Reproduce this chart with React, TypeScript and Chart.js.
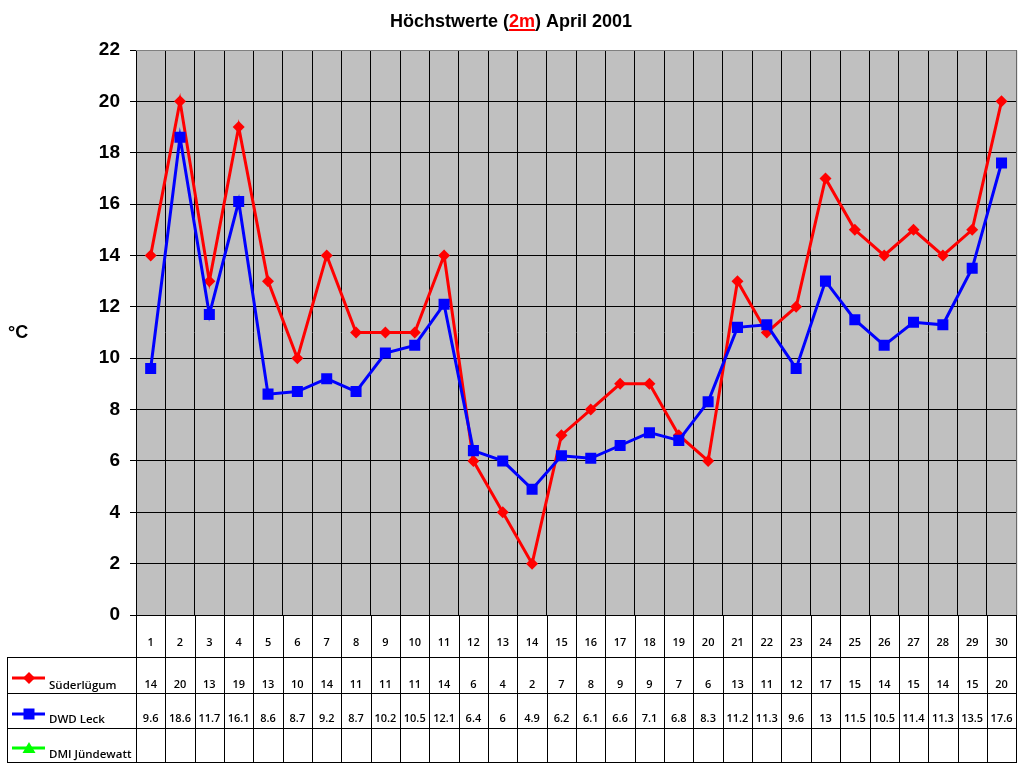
import React, { useEffect, useRef } from "react";
import { Chart, registerables } from "chart.js";

Chart.register(...registerables);

const days: string[] = ["1","2","3","4","5","6","7","8","9","10","11","12","13","14","15","16","17","18","19","20","21","22","23","24","25","26","27","28","29","30"];
const suederluegum: number[] = [14,20,13,19,13,10,14,11,11,11,14,6,4,2,7,8,9,9,7,6,13,11,12,17,15,14,15,14,15,20];
const dwdLeck: number[] = [9.6,18.6,11.7,16.1,8.6,8.7,9.2,8.7,10.2,10.5,12.1,6.4,6,4.9,6.2,6.1,6.6,7.1,6.8,8.3,11.2,11.3,9.6,13,11.5,10.5,11.4,11.3,13.5,17.6];
const dmiJuendewatt: (number | null)[] = [];
const seriesNames: string[] = ["Süderlügum", "DWD Leck", "DMI Jündewatt"];
const yTicks: number[] = [0, 2, 4, 6, 8, 10, 12, 14, 16, 18, 20, 22];

const RED = "#FF0000";
const BLUE = "#0000FF";
const GREEN = "#00FF00";
const TABLE_FONT = "600 11px 'Open Sans', 'Liberation Sans', sans-serif";
const LEGEND_FONT = "600 11.5px 'Open Sans', 'Liberation Sans', sans-serif";

const fmt = (v: number | null | undefined) => (v === null || v === undefined ? "" : String(v));

const decorPlugin = {
  id: "decor",
  beforeDraw(chart: any) {
    const { ctx, chartArea } = chart;
    ctx.save();
    ctx.fillStyle = "#C0C0C0";
    ctx.fillRect(chartArea.left, chartArea.top, chartArea.right - chartArea.left, chartArea.bottom - chartArea.top);
    ctx.restore();
  },
  afterDraw(chart: any) {
    const { ctx, chartArea } = chart;
    const xs = chart.scales.x;
    const n = days.length;
    ctx.save();

    // plot border top/right gray
    ctx.strokeStyle = "#808080";
    ctx.lineWidth = 1;
    ctx.beginPath();
    ctx.moveTo(chartArea.left, chartArea.top + 0.5);
    ctx.lineTo(chartArea.right + 0.5, chartArea.top + 0.5);
    ctx.lineTo(chartArea.right + 0.5, chartArea.bottom);
    ctx.stroke();

    // Title
    ctx.font = "bold 18px 'Liberation Sans', Arial, sans-serif";
    ctx.textBaseline = "alphabetic";
    ctx.textAlign = "left";
    const p1 = "Höchstwerte (";
    const p2 = "2m";
    const p3 = ") April 2001";
    const w1 = ctx.measureText(p1).width;
    const w2 = ctx.measureText(p2).width;
    const w3 = ctx.measureText(p3).width;
    const tx = 511 - (w1 + w2 + w3) / 2;
    const ty = 27;
    ctx.fillStyle = "#000";
    ctx.fillText(p1, tx, ty);
    ctx.fillStyle = RED;
    ctx.fillText(p2, tx + w1, ty);
    ctx.fillRect(tx + w1, ty + 2, w2, 2);
    ctx.fillStyle = "#000";
    ctx.fillText(p3, tx + w1 + w2, ty);

    // y-axis unit
    ctx.font = "bold 18px 'Liberation Sans', Arial, sans-serif";
    ctx.fillText("°C", 8, 338);

    // Data table
    const top = chartArea.bottom;
    const rowY = [657, 693, 728, 762];
    const leftX = 7;
    const rightX = Math.round(xs.getPixelForValue(n - 0.5));
    ctx.strokeStyle = "#000";
    ctx.lineWidth = 1;
    ctx.beginPath();
    for (let i = 0; i <= n; i++) {
      const x = Math.round(xs.getPixelForValue(i - 0.5)) + 0.5;
      ctx.moveTo(x, top);
      ctx.lineTo(x, rowY[3] + 0.5);
    }
    for (const y of rowY) {
      ctx.moveTo(leftX, y + 0.5);
      ctx.lineTo(rightX + 1, y + 0.5);
    }
    ctx.moveTo(leftX + 0.5, rowY[0]);
    ctx.lineTo(leftX + 0.5, rowY[3] + 1);
    ctx.stroke();

    ctx.fillStyle = "#000";
    ctx.font = TABLE_FONT;
    ctx.textAlign = "center";
    ctx.textBaseline = "alphabetic";
    const rows: (number | null)[][] = [suederluegum, dwdLeck, dmiJuendewatt];
    const valueBase = [688, 722, 757];
    for (let i = 0; i < n; i++) {
      const cx = xs.getPixelForValue(i);
      ctx.fillText(days[i], cx, 646);
      rows.forEach((r, k) => {
        const t = fmt(r[i]);
        if (t) ctx.fillText(t, cx, valueBase[k]);
      });
    }

    // legend keys
    const keyY = [678, 714, 748];
    const colors = [RED, BLUE, GREEN];
    ctx.font = LEGEND_FONT;
    ctx.textAlign = "left";
    for (let k = 0; k < 3; k++) {
      const y = keyY[k];
      ctx.strokeStyle = colors[k];
      ctx.fillStyle = colors[k];
      ctx.lineWidth = 3;
      ctx.beginPath();
      ctx.moveTo(12, y);
      ctx.lineTo(45, y);
      ctx.stroke();
      const cx = 29;
      ctx.beginPath();
      if (k === 0) {
        ctx.moveTo(cx - 6, y);
        ctx.lineTo(cx, y - 6);
        ctx.lineTo(cx + 6, y);
        ctx.lineTo(cx, y + 6);
      } else if (k === 1) {
        ctx.rect(cx - 5.5, y - 5.5, 11, 11);
      } else {
        ctx.moveTo(cx - 6.5, y + 5);
        ctx.lineTo(cx, y - 6);
        ctx.lineTo(cx + 6.5, y + 5);
      }
      ctx.closePath();
      ctx.fill();
      ctx.fillStyle = "#000";
      ctx.fillText(seriesNames[k], 49, valueBase[k] + 1);
    }
    ctx.restore();
  },
};

export default function App() {
  const ref = useRef<HTMLCanvasElement | null>(null);
  useEffect(() => {
    if (!ref.current) return;
    const chart = new Chart(ref.current, {
      type: "line",
      data: {
        labels: days,
        datasets: [
          {
            label: seriesNames[0],
            data: suederluegum,
            borderColor: RED,
            backgroundColor: RED,
            borderWidth: 3,
            pointStyle: "rectRot",
            pointRadius: 6,
            pointBorderWidth: 0,
            pointBackgroundColor: RED,
            tension: 0,
            order: 2,
          },
          {
            label: seriesNames[1],
            data: dwdLeck,
            borderColor: BLUE,
            backgroundColor: BLUE,
            borderWidth: 3,
            pointStyle: "rect",
            pointRadius: 7.8,
            pointBorderWidth: 0,
            pointBackgroundColor: BLUE,
            tension: 0,
            order: 1,
          },
          {
            label: seriesNames[2],
            data: dmiJuendewatt,
            borderColor: GREEN,
            backgroundColor: GREEN,
            borderWidth: 3,
            pointStyle: "triangle",
            pointRadius: 7,
            tension: 0,
            order: 3,
          },
        ],
      },
      options: {
        animation: false,
        responsive: false,
        devicePixelRatio: 1,
        layout: { padding: { top: 50, right: 2, left: 0, bottom: 0 } },
        plugins: {
          legend: { display: false },
          title: { display: false },
          tooltip: { enabled: false },
        },
        scales: {
          x: {
            type: "category",
            offset: true,
            grid: { offset: true, color: "#000", lineWidth: 1, drawTicks: false, tickLength: 0 },
            border: { display: true, color: "#000", width: 1 },
            ticks: { display: false },
            afterFit: (s: any) => {
              s.height = 153;
            },
          },
          y: {
            type: "linear",
            min: yTicks[0],
            max: yTicks[yTicks.length - 1],
            afterBuildTicks: (s: any) => {
              s.ticks = yTicks.map((v) => ({ value: v }));
            },
            grid: { color: "#000", lineWidth: 1, tickLength: 6 },
            border: { display: true, color: "#000", width: 1 },
            ticks: {
              color: "#000",
              padding: 10,
              font: { family: "'Liberation Sans', Arial, sans-serif", size: 19, weight: "bold" },
            },
            afterFit: (s: any) => {
              s.width = 136;
            },
          },
        },
      },
      plugins: [decorPlugin],
    });
    return () => chart.destroy();
  }, []);
  return (
    <div style={{ position: "fixed", left: 0, top: 0, width: 1024, height: 768, background: "#fff" }}>
      <canvas ref={ref} width={1024} height={768} style={{ width: 1024, height: 768, display: "block" }} />
    </div>
  );
}
